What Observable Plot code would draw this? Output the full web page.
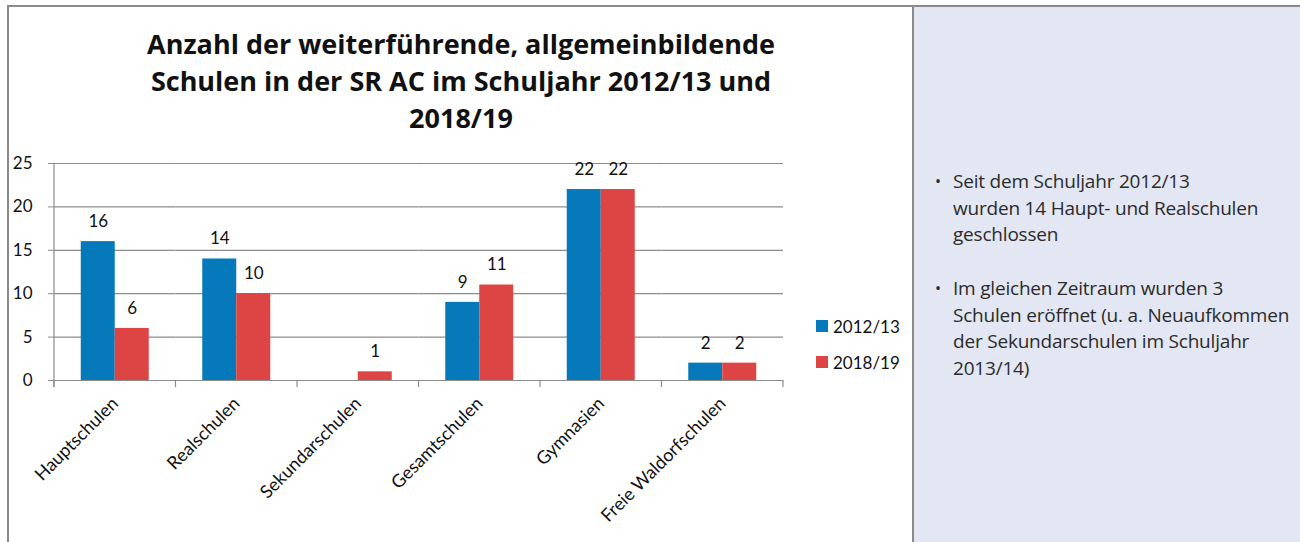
<!DOCTYPE html>
<html><head><meta charset="utf-8">
<script src="https://cdn.jsdelivr.net/npm/d3@7"></script>
<script src="https://cdn.jsdelivr.net/npm/@observablehq/plot@0.6"></script>
<style>
html,body{margin:0;padding:0;background:#fff;}
body{width:1300px;height:542px;overflow:hidden;position:relative;font-family:Lato,"Open Sans",sans-serif;}
#border{position:absolute;left:7px;top:5px;width:1300px;height:545px;border-left:2px solid #8a8a8a;border-top:2px solid #8a8a8a;box-sizing:border-box;}
#panel{position:absolute;left:912px;top:7px;width:388px;height:540px;background:#e3e6f3;border-left:2px solid #8a8a8a;box-sizing:border-box;}
#title{position:absolute;left:61px;width:800px;top:25px;text-align:center;font:bold 27px/37px "Open Sans",sans-serif;color:#111;}
#chart{position:absolute;left:9px;top:130px;}
#legend{position:absolute;left:816px;top:316px;font:17px Lato,sans-serif;color:#111;}
#legend .it{display:flex;align-items:center;height:20px;margin-bottom:16px;}
#legend .sw{width:12px;height:12px;margin-right:5px;}
#notes{position:absolute;left:935px;top:168px;font:19px/26.7px "Open Sans",sans-serif;color:#2b2b2b;letter-spacing:-0.2px;}
#notes .b{position:relative;padding-left:18px;}
#notes .b::before{content:"•";position:absolute;left:0;top:0;font-size:16px;}
</style>
</head><body>
<div id="border"></div>
<div id="panel"></div>
<div id="title">Anzahl der weiterführende, allgemeinbildende<br>Schulen in der SR AC im Schuljahr 2012/13 und<br>2018/19</div>
<div id="chart"></div>
<div id="legend"></div>
<div id="notes"></div>
<script>
const categories = ["Hauptschulen","Realschulen","Sekundarschulen","Gesamtschulen","Gymnasien","Freie Waldorfschulen"];
const series = ["2012/13","2018/19"];
const values2012 = [16,14,0,9,22,2];
const values2018 = [6,10,1,11,22,2];
const colors = ["#0579b9","#dc4544"];
const yTicks = [0,5,10,15,20,25];
const notes = [
  ["Seit dem Schuljahr 2012/13","wurden 14 Haupt- und Realschulen","geschlossen"],
  ["Im gleichen Zeitraum wurden 3","Schulen eröffnet (u. a. Neuaufkommen","der Sekundarschulen im Schuljahr","2013/14)"]
];

const data = [];
categories.forEach((c,i)=>{
  data.push({cat:c, series:series[0], value:values2012[i]});
  data.push({cat:c, series:series[1], value:values2018[i]});
});

const grid = "#8c8c8c";
const chart = Plot.plot({
  width: 904,
  height: 412,
  marginLeft: 45,
  marginRight: 130,
  marginTop: 33,
  marginBottom: 162,
  style: {fontFamily: "Lato, sans-serif", fontSize: "17px", color: "#111", background: "transparent"},
  fx: {domain: categories, padding: 0, label: null, round: false},
  x: {domain: series, paddingInner: 0, paddingOuter: 0.787, axis: null, round: false},
  y: {domain: [0,25], label: null},
  color: {domain: series, range: colors},
  marks: [
    Plot.ruleY(yTicks, {stroke: grid, strokeWidth: 1.2}),
    Plot.barY(data, {fx: "cat", x: "series", y: "value", fill: "series"}),
    Plot.text(data.filter(d=>d.value>0), {fx: "cat", x: "series", y: "value", text: d=>String(d.value), dy: -20, fontSize: 17, fill: "#111"}),
    Plot.axisY({ticks: yTicks, tickSize: 6, tickPadding: 16, fontSize: 17, stroke: grid, fill: "#111", label: null}),
    Plot.axisFx({anchor: "bottom", tickSize: 0, tickRotate: -45, tickPadding: 20, fontSize: 18, fill: "#111", label: null})
  ]
});
document.getElementById("chart").appendChild(chart);

// extra axis lines using the plot's scales
const svg = d3.select(chart.tagName.toLowerCase()==="svg" ? chart : chart.querySelector("svg"));
const fxs = chart.scale("fx");
const ys = chart.scale("y");
const y0 = ys.apply(0), y25 = ys.apply(25);
const g = svg.append("g").attr("stroke", grid).attr("stroke-width", 1.2);
const left = fxs.apply(categories[0]);
g.append("line").attr("x1", left).attr("x2", left).attr("y1", y25).attr("y2", y0 + 7);
const bounds = categories.map(c=>fxs.apply(c)).concat([fxs.apply(categories[categories.length-1]) + fxs.bandwidth]);
bounds.forEach(b=>g.append("line").attr("x1", b).attr("x2", b).attr("y1", y0).attr("y2", y0 + 7));

// legend
const lg = d3.select("#legend");
series.forEach((s,i)=>{
  const it = lg.append("div").attr("class","it");
  it.append("div").attr("class","sw").style("background", colors[i]);
  it.append("span").text(s);
});

// notes
const nt = d3.select("#notes");
notes.forEach((lines,i)=>{
  const d = nt.append("div").attr("class","b").style("margin-bottom", i===0 ? "26.7px" : "0");
  d.html(lines.join("<br>"));
});
</script>
</body></html>
